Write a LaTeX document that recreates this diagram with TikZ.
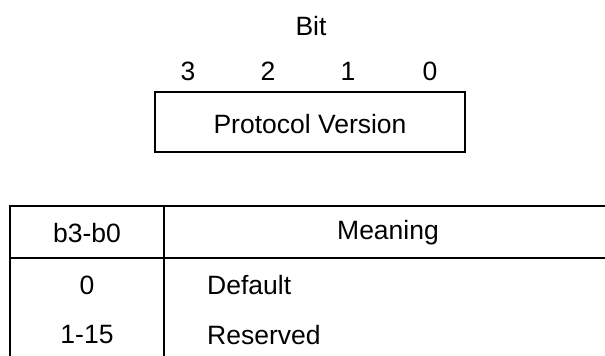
\documentclass[tikz,border=0pt]{standalone}
\usepackage{fontspec}
\setmainfont{Liberation Sans}
\begin{document}
\begin{tikzpicture}[x=1pt,y=-1pt,
  lbl/.style={font=\fontsize{26.5}{30}\selectfont, inner sep=0pt, anchor=center},
  lblw/.style={font=\fontsize{26.5}{30}\selectfont, inner sep=0pt, anchor=west},
  frame/.style={draw=black, line width=2.6pt}]
\useasboundingbox (0,0) rectangle (605,356);
\begin{scope}
\clip (0,0) rectangle (605,356);
% top box
\node[lbl] (bit) at (311,26) {Bit};
\node[lbl] (b3) at (188,71) {3};
\node[lbl] (b2) at (268,71) {2};
\node[lbl] (b1) at (348,71) {1};
\node[lbl] (b0) at (430,71) {0};
\draw[frame] (155,92) rectangle (465,152);
\node[lbl] (pv) at (310,124) {Protocol Version};
% table
\draw[frame] (10,370) -- (10,206) -- (620,206);
\draw[frame] (10,258) -- (620,258);
\draw[frame] (164,206) -- (164,370);
\node[lbl] (h1) at (87,233) {b3-b0};
\node[lbl] (h2) at (388,233) {Meaning};
\node[lbl] (r1a) at (87,285) {0};
\node[lblw] (r1b) at (207,285) {Default};
\node[lbl] (r2a) at (87,335) {1-15};
\node[lblw] (r2b) at (207,335) {Reserved};
\end{scope}
\end{tikzpicture}
\end{document}
